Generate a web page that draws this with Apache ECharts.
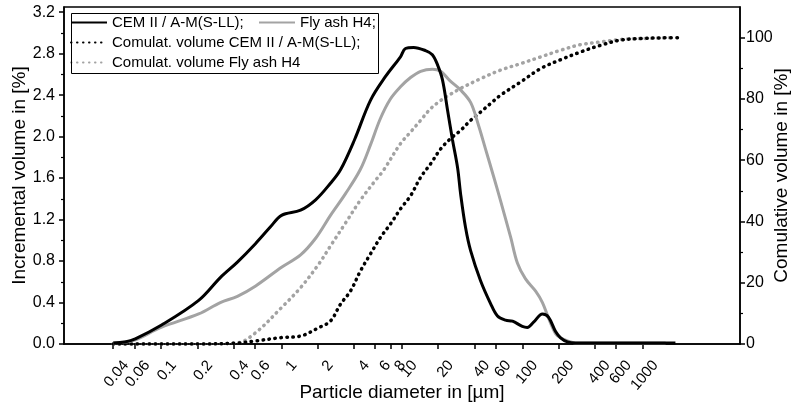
<!DOCTYPE html>
<html>
<head>
<meta charset="utf-8">
<script src="https://cdn.jsdelivr.net/npm/echarts@6/dist/echarts.min.js"></script>
<style>
html,body{margin:0;padding:0;background:#fff;overflow:hidden;}
#c{width:796px;height:406px;}
</style>
</head>
<body>
<div id="c"></div>
<script>
// ---- data ----
const xTicks = [0.04, 0.06, 0.1, 0.2, 0.4, 0.6, 1, 2, 4, 6, 8, 10, 20, 40, 60, 100, 200, 400, 600, 1000];
const leftTicks = [0, 0.4, 0.8, 1.2, 1.6, 2.0, 2.4, 2.8, 3.2];
const leftMinor = [0.2, 0.6, 1.0, 1.4, 1.8, 2.2, 2.6, 3.0];
const rightTicks = [0, 20, 40, 60, 80, 100];
const rightMinor = [10, 30, 50, 70, 90];

const cemD = [0.04, 0.05, 0.061, 0.1, 0.205, 0.31, 0.43, 0.61, 0.81, 1, 1.44, 1.92, 2.55, 3.09, 4.04, 5.48, 7.31, 9.73, 10.7, 12.5, 15.7, 17.9, 19.8, 21.7, 23.9, 26.3, 29.0, 30.7, 33.8, 37.2, 45, 54.5, 62.2, 72.5, 82.9, 100, 110, 124, 147, 165, 189, 208, 237, 277, 500, 1000, 1550, 1870];
const cemInc = [0.01, 0.02, 0.05, 0.18, 0.42, 0.64, 0.79, 0.97, 1.13, 1.24, 1.29, 1.39, 1.55, 1.68, 1.97, 2.35, 2.58, 2.77, 2.85, 2.86, 2.83, 2.79, 2.69, 2.55, 2.26, 1.97, 1.70, 1.45, 1.12, 0.90, 0.61, 0.39, 0.27, 0.23, 0.22, 0.17, 0.16, 0.21, 0.29, 0.26, 0.12, 0.06, 0.02, 0.01, 0.01, 0.01, 0.01, 0.01];

const flyD = [0.04, 0.05, 0.061, 0.1, 0.205, 0.31, 0.43, 0.61, 1, 1.44, 1.92, 2.55, 3.4, 4.5, 5.48, 6.6, 8, 9.73, 11.8, 14.3, 17.9, 21, 25, 30.7, 37.2, 43, 49.5, 57.6, 66, 80, 91, 106, 129, 147, 165, 189, 208, 237, 277, 500, 1000, 1550];
const flyInc = [0.01, 0.02, 0.04, 0.16, 0.29, 0.40, 0.46, 0.56, 0.74, 0.86, 1.02, 1.24, 1.45, 1.68, 1.92, 2.17, 2.36, 2.48, 2.57, 2.63, 2.65, 2.63, 2.54, 2.45, 2.33, 2.12, 1.88, 1.62, 1.38, 1.03, 0.78, 0.63, 0.51, 0.40, 0.25, 0.10, 0.06, 0.03, 0.01, 0.01, 0.01, 0.01];

const cumCemD = [0.04, 0.2, 0.43, 0.61, 1, 1.44, 2.03, 2.55, 3.09, 3.74, 4.53, 5.48, 6.64, 8.04, 9.73, 11.8, 14.3, 17.3, 21, 25.3, 30.7, 37.2, 45, 54.5, 65.9, 96.6, 142, 208, 304, 446, 654, 959, 1400, 2140];
const cumCem = [0, 0, 0.3, 1, 2.1, 2.6, 5.3, 7.5, 13.0, 17.3, 23.9, 29.4, 34.8, 39.2, 44.1, 48.4, 54.4, 58.8, 63.7, 67, 69.7, 73, 75.7, 78.5, 81.2, 85.5, 89.9, 92.8, 95.3, 97.5, 99.2, 99.7, 99.9, 100];

const cumFlyD = [0.04, 0.2, 0.43, 0.61, 1, 1.44, 2.03, 2.55, 3.4, 4.53, 6.0, 7.0, 9.73, 11.8, 14.3, 17.3, 21, 25.3, 30.7, 45, 65.9, 96.6, 142, 208, 304, 446, 654, 959, 1700];
const cumFly = [0, 0, 0.4, 3.7, 11.9, 18.4, 26, 32, 39.5, 47, 53.3, 56.6, 65.4, 69.2, 73, 76.8, 79.5, 81.5, 83.4, 86.6, 89.4, 91.5, 93.7, 95.9, 97.7, 98.6, 99.4, 99.7, 100];

const names = ['CEM II / A-M(S-LL);', 'Fly ash H4;', 'Comulat. volume CEM II / A-M(S-LL);', 'Comulat. volume Fly ash H4'];

function pairs(xs, ys) { return xs.map((x, i) => [x, ys[i]]); }

const FONT = 'Liberation Sans, Arial, sans-serif';
const GRAY = '#a3a3a3';
const fmt = v => String(parseFloat(Number(v).toPrecision(6)));

const chart = echarts.init(document.getElementById('c'), null, {renderer: 'canvas', width: 796, height: 406});

const legendBase = {
  orient: 'horizontal', padding: 0, itemWidth: 36, itemHeight: 14, itemGap: 0,
  textStyle: {fontFamily: FONT, fontSize: 15, color: '#000'},
  itemStyle: {opacity: 0},
  selectedMode: false
};

chart.setOption({
  animation: false,
  backgroundColor: '#fff',
  grid: {left: 64, right: 56, top: 7, bottom: 62, show: true, borderColor: '#000', borderWidth: 1.5, containLabel: false, outerBoundsMode: 'none'},
  xAxis: {
    type: 'log', logBase: 10, min: 0.0156, max: 6430,
    name: 'Particle diameter in [\u00b5m]', nameLocation: 'middle', nameGap: 39, nameMoveOverlap: false,
    nameTextStyle: {fontFamily: FONT, fontSize: 19, color: '#000'},
    axisLine: {show: true, lineStyle: {color: '#000', width: 1.5}},
    axisTick: {show: true, inside: false, length: 5, lineStyle: {color: '#000', width: 1.5}, customValues: xTicks},
    axisLabel: {show: true, rotate: 50, margin: 8, padding: [9, 0, 0, 0], fontFamily: FONT, fontSize: 15, color: '#000', customValues: xTicks, formatter: fmt, verticalAlign: 'top'},
    splitLine: {show: false}, minorTick: {show: false}
  },
  yAxis: [
    {
      type: 'value', min: 0, max: 3.25, position: 'left',
      name: 'Incremental volume in [%]', nameLocation: 'middle', nameGap: 35, nameMoveOverlap: false,
      nameTextStyle: {fontFamily: FONT, fontSize: 19, color: '#000'},
      axisLine: {show: true, lineStyle: {color: '#000', width: 1.5}},
      axisTick: {show: true, inside: false, length: 5, lineStyle: {color: '#000', width: 1.5}, customValues: leftTicks},
      axisLabel: {show: true, margin: 9, fontFamily: FONT, fontSize: 16, color: '#000', customValues: leftTicks, formatter: v => Number(v).toFixed(1)},
      splitLine: {show: false}
    },
    {
      type: 'value', min: 0, max: 110, position: 'right',
      name: 'Comulative volume in [%]', nameLocation: 'middle', nameGap: 32, nameMoveOverlap: false,
      nameTextStyle: {fontFamily: FONT, fontSize: 19, color: '#000'},
      axisLine: {show: true, lineStyle: {color: '#000', width: 1.5}},
      axisTick: {show: true, inside: false, length: 5, lineStyle: {color: '#000', width: 1.5}, customValues: rightTicks},
      axisLabel: {show: true, margin: 6, fontFamily: FONT, fontSize: 16, color: '#000', customValues: rightTicks, formatter: v => String(Math.round(v))},
      splitLine: {show: false}
    },
    {
      type: 'value', min: 0, max: 3.25, position: 'left',
      axisLine: {show: false},
      axisTick: {show: true, inside: false, length: 3, lineStyle: {color: '#000', width: 1.2}, customValues: leftMinor},
      axisLabel: {show: false}, splitLine: {show: false}
    },
    {
      type: 'value', min: 0, max: 110, position: 'right',
      axisLine: {show: false},
      axisTick: {show: true, inside: false, length: 3, lineStyle: {color: '#000', width: 1.2}, customValues: rightMinor},
      axisLabel: {show: false}, splitLine: {show: false}
    }
  ],
  legend: [
    Object.assign({}, legendBase, {left: 70, top: 15, data: [names[0]]}),
    Object.assign({}, legendBase, {left: 258, top: 15, data: [names[1]]}),
    Object.assign({}, legendBase, {left: 70, top: 35, data: [names[2]]}),
    Object.assign({}, legendBase, {left: 70, top: 55, data: [names[3]]})
  ],
  graphic: [{
    type: 'rect', left: 69, top: 11, z: 100, silent: true,
    shape: {width: 307, height: 60},
    style: {fill: 'none', stroke: '#000', lineWidth: 1}
  }],
  series: [
    {name: names[0], type: 'line', xAxisIndex: 0, yAxisIndex: 0, data: pairs(cemD, cemInc), smooth: 0.35, symbol: 'none', z: 4,
     lineStyle: {color: '#000', width: 3}, itemStyle: {color: '#000'}},
    {name: names[1], type: 'line', xAxisIndex: 0, yAxisIndex: 0, data: pairs(flyD, flyInc), smooth: 0.35, symbol: 'none', z: 3,
     lineStyle: {color: GRAY, width: 3}, itemStyle: {color: GRAY}},
    {name: names[2], type: 'line', xAxisIndex: 0, yAxisIndex: 1, data: pairs(cumCemD, cumCem), smooth: 0.35, symbol: 'none', z: 2,
     lineStyle: {color: '#000', width: 3.5, type: [0.5, 5.5], cap: 'round'}, itemStyle: {color: '#000'}},
    {name: names[3], type: 'line', xAxisIndex: 0, yAxisIndex: 1, data: pairs(cumFlyD, cumFly), smooth: 0.35, symbol: 'none', z: 1,
     lineStyle: {color: GRAY, width: 3.5, type: [0.5, 5.5], cap: 'round'}, itemStyle: {color: GRAY}}
  ]
});
</script>
</body>
</html>
